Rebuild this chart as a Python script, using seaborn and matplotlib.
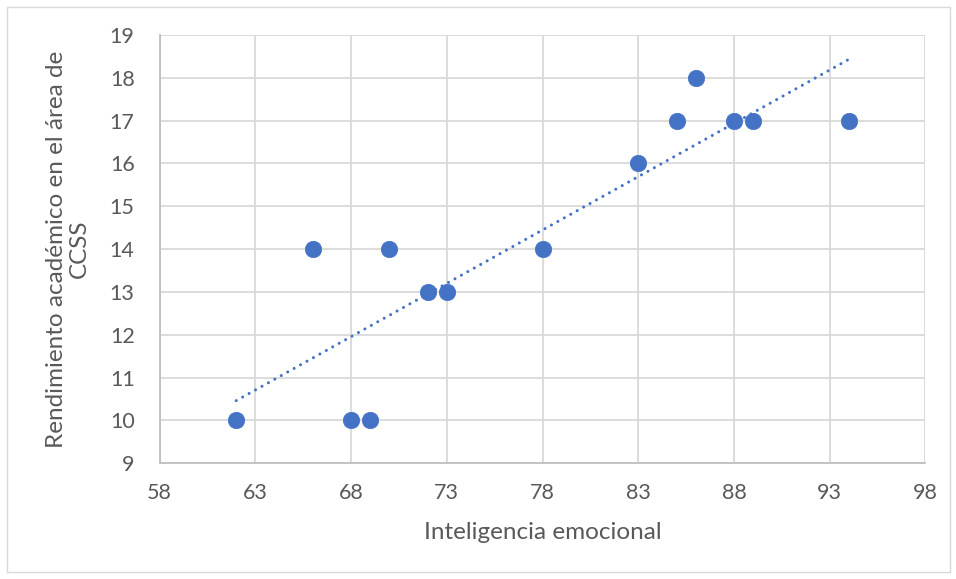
import numpy as np
import pandas as pd
import matplotlib.pyplot as plt
import seaborn as sns
from matplotlib.patches import Rectangle

# Inteligencia emocional vs rendimiento académico (CCSS)
inteligencia = [62, 66, 68, 69, 70, 72, 73, 78, 83, 85, 86, 88, 89, 94]
rendimiento = [10, 14, 10, 10, 14, 13, 13, 14, 16, 17, 18, 17, 17, 17]
x_ticks = [58, 63, 68, 73, 78, 83, 88, 93, 98]
y_ticks = [9, 10, 11, 12, 13, 14, 15, 16, 17, 18, 19]

df = pd.DataFrame({'x': inteligencia, 'y': rendimiento})

sns.set_style('white')
plt.rcParams['font.family'] = ['Lato', 'DejaVu Sans']
text_color = '#595959'
blue = '#4472C4'

fig = plt.figure(figsize=(9.56, 5.79), dpi=100)
ax = fig.add_axes([0.167, 0.200, 0.801, 0.7396])

sns.regplot(data=df, x='x', y='y', ax=ax, scatter=False, ci=None, truncate=True,
            line_kws=dict(color=blue, linewidth=2.2, linestyle=(0, (0.01, 2.4)),
                          dash_capstyle='round', zorder=2))
sns.scatterplot(data=df, x='x', y='y', ax=ax, color=blue, s=140,
                edgecolor=blue, linewidth=0.5, zorder=3)

ax.set_xlim(58, 98)
ax.set_ylim(9, 19)
ax.set_xticks(x_ticks)
ax.set_yticks(y_ticks)
ax.grid(True, color='#d9d9d9', linewidth=1.3)
ax.set_axisbelow(True)
for side in ['top', 'right']:
    ax.spines[side].set_visible(False)
for side in ['left', 'bottom']:
    ax.spines[side].set_color('#bfbfbf')
    ax.spines[side].set_linewidth(1.3)
ax.tick_params(axis='both', length=0, labelsize=15.5, colors=text_color, pad=14)
ax.tick_params(axis='y', pad=18)

ax.set_xlabel('Inteligencia emocional', fontsize=17.5, color=text_color, labelpad=14)
ax.set_ylabel('Rendimiento académico en el área de\nCCSS', fontsize=17.5,
              color=text_color, labelpad=14, linespacing=1.15)

fig.patches.append(Rectangle((7 / 956, 7 / 579), 943 / 956, 565 / 579,
                             transform=fig.transFigure, fill=False,
                             edgecolor='#d9d9d9', linewidth=1))

plt.savefig('out.png', dpi=100)
